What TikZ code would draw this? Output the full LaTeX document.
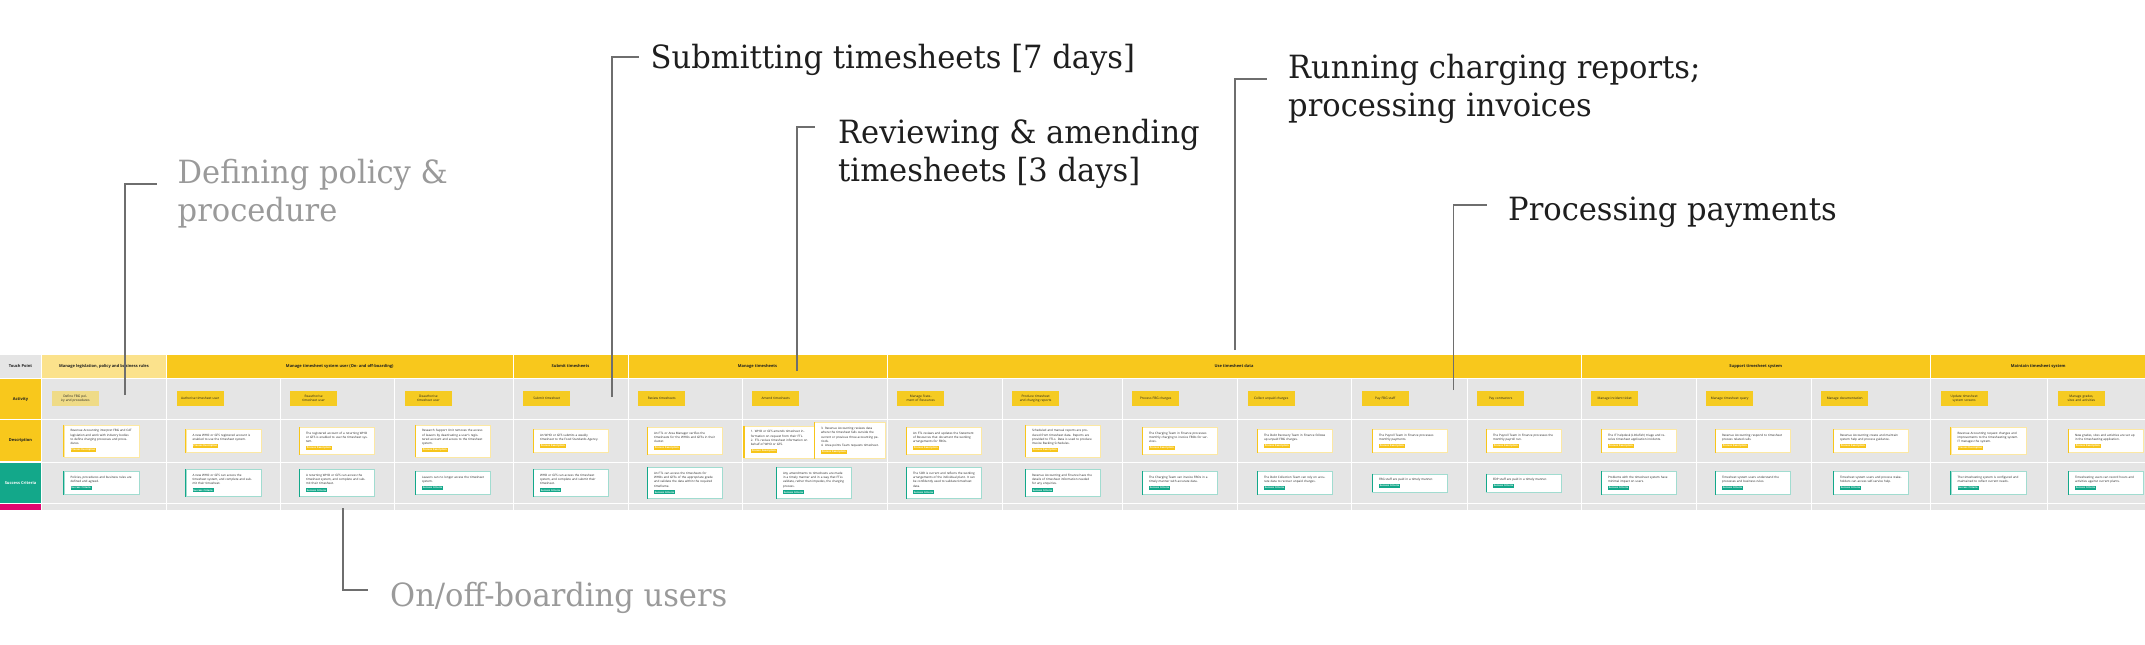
\documentclass[tikz,border=0pt]{standalone}
\usepackage{fontspec}
\setmainfont{Open Sans}
\newfontfamily\slabfont{DejaVu Serif}[FakeStretch=0.955]
\usetikzlibrary{positioning}
\definecolor{tpyellow}{HTML}{F8C81C}
\definecolor{tplight}{HTML}{FBE28C}
\definecolor{styellow}{HTML}{F5CB22}
\definecolor{stlight}{HTML}{EFDB87}
\definecolor{tagyellow}{HTML}{F7C51A}
\definecolor{sgteal}{HTML}{13A88A}
\definecolor{pinkrow}{HTML}{E2076F}
\definecolor{gridgrey}{HTML}{E5E5E5}
\definecolor{linegrey}{HTML}{6E6E6E}
\definecolor{ink}{HTML}{1E1E1E}
\definecolor{fadeink}{HTML}{9A9A9A}
\setlength{\fboxsep}{0.9pt}
\newcommand\proctag{\colorbox{tagyellow}{\color{white}\bfseries\fontsize{2.4}{2.6}\selectfont Process Description}}
\newcommand\succtag{\colorbox{sgteal}{\color{white}\bfseries\fontsize{2.4}{2.6}\selectfont Success Criteria}}

\begin{document}
\begin{tikzpicture}
[x=1pt,y=-1pt,
hdr/.style={fill=#1, minimum height=22.5pt, inner sep=0pt, text=ink, font=\bfseries\fontsize{4}{4.8}\selectfont},
lbl/.style={minimum width=41pt, inner sep=0pt, text=ink, font=\bfseries\fontsize{4}{4.8}\selectfont},
sticky/.style={fill=#1, text width=41pt, inner xsep=3pt, minimum height=15pt, align=center, text=ink, font=\fontsize{3.2}{3.8}\selectfont},
dcard/.style={fill=white, draw=tagyellow!40, line width=0.5pt, text width=62pt, inner xsep=6.5pt, inner ysep=4.5pt, align=left, text=ink, font=\fontsize{3}{4.3}\selectfont},
scard/.style={dcard, draw=sgteal!40},
bar/.style={line width=1.4pt, draw=#1},
gridline/.style={draw=white, line width=1pt},
leader/.style={draw=linegrey, line width=1.6pt},
callout/.style={anchor=base west, inner sep=0pt, align=left, text=#1, font=\slabfont\fontsize{32}{38.7}\selectfont}]
\useasboundingbox (0,0) rectangle (2145,645);

% grid
\fill[gridgrey] (41.5,378) rectangle (2145,510);
\foreach \y in {378.7,419.6,462.1,503.6}
  \draw[gridline] (0,\y) -- (2145,\y);

% row labels
\node[lbl, fill=gridgrey, minimum height=22.5pt] (tp) at (20.5,366.3) {Touch Point};
\node[lbl, fill=tpyellow, minimum height=40pt] (act) at (20.5,399) {Activity};
\node[lbl, fill=tpyellow, minimum height=41.5pt] (dsc) at (20.5,440.7) {Description};
\node[lbl, fill=sgteal, text=white, minimum height=40.8pt] (suc) at (20.5,482.9) {Success Criteria};
\node[lbl, fill=pinkrow, minimum height=6pt] (pk) at (20.5,507) {};

% touch points
\foreach \xa/\xb/\hc/\txt [count=\i] in {
  41.5/166.5/tplight/{Manage legislation, policy and business rules},
  166.5/513/tpyellow/{Manage timesheet system user (On- and off-boarding)},
  513/628/tpyellow/{Submit timesheets},
  628/887/tpyellow/{Manage timesheets},
  887/1581/tpyellow/{Use timesheet data},
  1581/1930.5/tpyellow/{Support timesheet system},
  1930.5/2146/tpyellow/{Maintain timesheet system}}
  \node[hdr=\hc, minimum width={\xb-\xa-1}] (h\i) at ({(\xa+\xb)/2},366.3) {\txt};

% activities, descriptions, success criteria
\foreach \xa/\cx/\sc/\act/\desc/\succ [count=\i from 0] in {
  41.5/101.5/stlight/{Define FBG policy and procedures}/{Revenue Accounting interpret FBG and CAT legislation and work with industry bodies to define charging processes and procedures.}/{Policies, procedures and business rules are defined and agreed.},
  166.5/223.5/styellow/{Authorise timesheet user}/{A new WHO or GFS registered account is enabled to use the timesheet system.}/{A new WHO or GFS can access the timesheet system, and complete and submit their timesheet.},
  280/337/styellow/{Reauthorise timesheet user}/{The registered account of a returning WHO or GFS is enabled to use the timesheet system.}/{A returning WHO or GFS can access the timesheet system, and complete and submit their timesheet.},
  394.7/453/styellow/{Deauthorise timesheet user}/{Research Support Unit removes the access of leavers by deactivating a user's registered account and access to the timesheet system.}/{Leavers can no longer access the timesheet system.},
  513/571/styellow/{Submit timesheet}/{An WHO or GFS submits a weekly timesheet to the Food Standards Agency.}/{WHO or GFS can access the timesheet system, and complete and submit their timesheet.},
  628/685/styellow/{Review timesheets}/{An FTL or Area Manager verifies the timesheets for the WHOs and GFSs in their cluster.}/{An FTL can access the timesheets for WHOs and GFSs of the appropriate grade and validate the data within the required timeframe.},
  742/814/styellow/{Amend timesheets}/{}/{Any amendments to timesheets are made in a timely manner and in a way that FTLs validate, rather than impedes, the charging process.},
  887/944/styellow/{Manage Statement of Resources}/{An FTL reviews and updates the Statement of Resources that document the working arrangements for FBOs.}/{The SOR is current and reflects the working arrangements of the individual plant. It can be confidently used to validate timesheet data.},
  1002/1063/styellow/{Produce timesheet and charging reports}/{Scheduled and manual reports are produced from timesheet data. Reports are provided to FTLs. Data is used to produce Invoice Backing Schedules.}/{Revenue Accounting and Finance have the details of timesheet information needed for any enquiries.},
  1122/1180/styellow/{Process FBG charges}/{The Charging Team in Finance processes monthly charging to invoice FBOs for services.}/{The Charging Team can invoice FBOs in a timely manner with accurate data.},
  1237.5/1295/styellow/{Collect unpaid charges}/{The Debt Recovery Team in Finance follows up unpaid FBG charges.}/{The Debt Collection Team can rely on accurate data to recover unpaid charges.},
  1351.5/1410/styellow/{Pay FBG staff}/{The Payroll Team in Finance processes monthly payments.}/{FBG staff are paid in a timely manner.},
  1467/1524/styellow/{Pay contractors}/{The Payroll Team in Finance processes the monthly payroll run.}/{EDP staff are paid in a timely manner.},
  1581/1639/styellow/{Manage incident ticket}/{The IT helpdesk (Littlefish) triage and resolve timesheet application incidents.}/{Problems with the timesheet system have minimal impact on users.},
  1696/1753/styellow/{Manage timesheet query}/{Revenue Accounting respond to timesheet process related calls.}/{Timesheet system users understand the processes and business rules.},
  1811/1871/styellow/{Manage documentation}/{Revenue Accounting create and maintain system help and process guidance.}/{Timesheet system users and process stakeholders can access self-service help.},
  1930.5/1988.5/styellow/{Update timesheet system screens}/{Revenue Accounting request changes and improvements to the timesheeting system. IT manages the system.}/{The timesheeting system is configured and maintained to reflect current needs.},
  2047.7/2106/styellow/{Manage grades, sites and activities}/{New grades, sites and activities are set up in the timesheeting application.}/{Timesheeting users can record hours and activities against current plants.}}
{
  \draw[gridline] (\xa,378) -- (\xa,510);
  \node[sticky=\sc, anchor=west] (a\i) at (\xa+10,398.5) {\act};
  \ifnum\i=6 \else
    \node[dcard] (d\i) at (\cx,441) {\desc\\[1.8pt]\proctag};
    \draw[bar=tagyellow] (d\i.north west) -- (d\i.south west);
  \fi
  \node[scard] (s\i) at (\cx,483) {\succ\\[1.8pt]\succtag};
  \draw[bar=sgteal] (s\i.north west) -- (s\i.south west);
}

\node[dcard, text width=57pt] (d6a) at (779.4,442) {1. WHO or GFS amends timesheet information on request from their FTL.\\2. FTL revises timesheet information on behalf of WHO or GFS.\\[1.8pt]\proctag};
\draw[bar=tagyellow] (d6a.north west) -- (d6a.south west);
\node[dcard, text width=58pt] (d6b) at (850,440.7) {3. Revenue Accounting reviews data where the timesheet falls outside the current or previous three accounting periods.\\4. Area points Team requests timesheet.\\[1.8pt]\proctag};
\draw[bar=tagyellow] (d6b.north west) -- (d6b.south west);

% callouts
\coordinate (defEnd) at (125,395);
\coordinate (defTick) at (157,184);
\node[callout=fadeink] (defLab) at (177.5,221.7) {Defining policy \&\\procedure};
\draw[leader] (defEnd) |- (defTick);

\coordinate (subEnd) at (612,397);
\coordinate (subTick) at (639,57);
\node[callout=ink] (subLab) at (650.5,68) {Submitting timesheets [7 days]};
\draw[leader] (subEnd) |- (subTick);

\coordinate (revEnd) at (797,371);
\coordinate (revTick) at (815,127);
\node[callout=ink] (revLab) at (838,181.7) {Reviewing \& amending\\timesheets [3 days]};
\draw[leader] (revEnd) |- (revTick);

\coordinate (runEnd) at (1235,350);
\coordinate (runTick) at (1267,79);
\node[callout=ink] (runLab) at (1288,116.7) {Running charging reports;\\processing invoices};
\draw[leader] (runEnd) |- (runTick);

\coordinate (payEnd) at (1453.5,390);
\coordinate (payTick) at (1487,205);
\node[callout=ink] (payLab) at (1508,220) {Processing payments};
\draw[leader] (payEnd) |- (payTick);

\coordinate (onEnd) at (343,508);
\coordinate (onTick) at (368,590);
\node[callout=fadeink] (onLab) at (390,606) {On/off-boarding users};
\draw[leader] (onEnd) |- (onTick);

\end{tikzpicture}
\end{document}
